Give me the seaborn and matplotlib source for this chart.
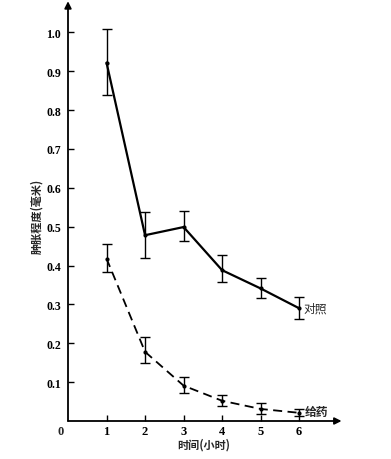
import numpy as np
import pandas as pd
import matplotlib
matplotlib.use('Agg')
import matplotlib.pyplot as plt
import seaborn as sns

# 数据
hours = [1, 2, 3, 4, 5, 6]
control_mean = [0.922, 0.478, 0.499, 0.388, 0.341, 0.290]
control_low = [0.838, 0.420, 0.462, 0.358, 0.316, 0.262]
control_high = [1.008, 0.538, 0.540, 0.428, 0.367, 0.320]
drug_mean = [0.418, 0.178, 0.091, 0.052, 0.031, 0.021]
drug_low = [0.383, 0.150, 0.072, 0.039, 0.019, 0.013]
drug_high = [0.456, 0.215, 0.112, 0.068, 0.046, 0.030]
yticks = [0.1, 0.2, 0.3, 0.4, 0.5, 0.6, 0.7, 0.8, 0.9, 1.0]

sns.set_style('white')
plt.rcParams['font.family'] = ['Liberation Serif', 'Noto Sans CJK SC']
cjk = ['Noto Sans CJK SC', 'DejaVu Sans']

fig = plt.figure(figsize=(3.91, 4.6), dpi=100)
ax = fig.add_axes([68 / 391, 38 / 460, (340 - 68) / 391, (422 - 10) / 460])
ax.set_xlim(0, 7.06)
ax.set_ylim(0, 1.06)

df = pd.DataFrame({'h': hours, 'c': control_mean, 'd': drug_mean})
sns.lineplot(data=df, x='h', y='c', ax=ax, color='black', lw=1.6, marker='o',
             markersize=3, markeredgewidth=0)
sns.lineplot(data=df, x='h', y='d', ax=ax, color='black', lw=1.3, marker='o',
             markersize=3, markeredgewidth=0, linestyle=(0, (5, 3)))

for mean, lo, hi in [(control_mean, control_low, control_high),
                     (drug_mean, drug_low, drug_high)]:
    m = np.array(mean)
    yerr = [m - np.array(lo), np.array(hi) - m]
    ax.errorbar(hours, mean, yerr=yerr, fmt='none', ecolor='black',
                elinewidth=1.0, capsize=3.5, capthick=1.0)

# 坐标轴 (带箭头)
for s in ax.spines.values():
    s.set_visible(False)
ax.annotate('', xy=(0, 1.08), xytext=(0, 0), xycoords='data',
            arrowprops=dict(arrowstyle='-|>', color='black', lw=1.3,
                            mutation_scale=10, shrinkA=0, shrinkB=0),
            annotation_clip=False)
ax.annotate('', xy=(7.1, 0), xytext=(0, 0), xycoords='data',
            arrowprops=dict(arrowstyle='-|>', color='black', lw=1.3,
                            mutation_scale=10, shrinkA=0, shrinkB=0),
            annotation_clip=False)

ax.set_xticks(hours)
ax.set_xticklabels([str(h) for h in hours], fontweight='bold', fontsize=9)
ax.set_yticks(yticks)
ax.set_yticklabels([f'{v:.1f}' for v in yticks], fontweight='bold', fontsize=8.5)
ax.tick_params(axis='both', direction='in', length=4, width=1, colors='black',
               left=True, bottom=True)
ax.tick_params(axis='x', pad=3)
ax.tick_params(axis='y', pad=5)
ax.annotate('0', xy=(0, 0), xytext=(-3, -3), textcoords='offset points',
            ha='right', va='top', fontsize=9, fontweight='bold')

ax.set_xlabel('时间(小时)', family=cjk, fontweight='bold', fontsize=8, labelpad=0)
ax.set_ylabel('肿胀程度(毫米)', family=cjk, fontweight='bold', fontsize=8, labelpad=2)

ax.text(6.1, 0.29, '对照', family=cjk, fontsize=8.5, va='center', ha='left')
ax.text(6.15, 0.025, '给药', family=cjk, fontsize=8.5, fontweight='bold',
        va='center', ha='left')

fig.savefig('out.png', dpi=100)
